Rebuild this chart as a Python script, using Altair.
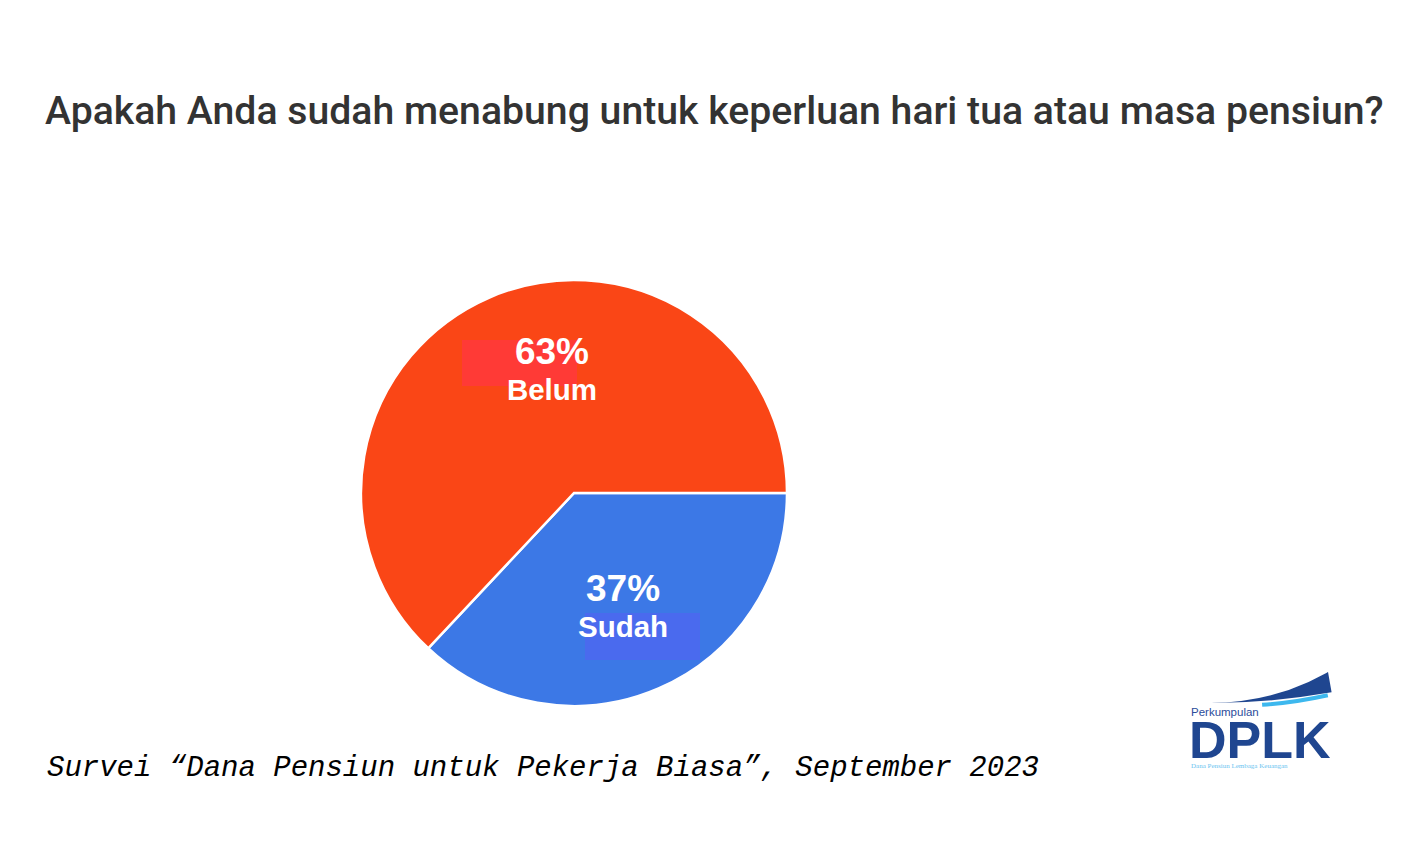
import math
import altair as alt
import pandas as pd

categories = ["Sudah", "Belum"]
values = [37, 63]
pct_labels = ["37%", "63%"]
order = [1, 2]
colors = ["#3C78E6", "#FA4616"]

title_text = "Apakah Anda sudah menabung untuk keperluan hari tua atau masa pensiun?"
footer_text = "Survei \u201cDana Pensiun untuk Pekerja Biasa\u201d, September 2023"

df = pd.DataFrame({"cat": categories, "value": values, "pct": pct_labels, "ord": order})
one = pd.DataFrame({"k": [0]})

CX, CY, R = 566, 485, 213
theta_scale = alt.Scale(domain=[0, 100], range=[math.pi / 2, math.pi / 2 + 2 * math.pi])
color_scale = alt.Scale(domain=categories, range=colors)

base = alt.Chart(df)

pie = base.mark_arc(outerRadius=R, stroke="white", strokeWidth=2.5).encode(
    theta=alt.Theta("value:Q", stack=True, scale=theta_scale),
    order=alt.Order("ord:Q"),
    color=alt.Color("cat:N", scale=color_scale, legend=None),
    x=alt.value(CX), y=alt.value(CY),
)

patch1 = alt.Chart(one).mark_rect(color="#FF3A36").encode(
    x=alt.value(454), x2=alt.value(569), y=alt.value(332), y2=alt.value(378))
patch2 = alt.Chart(one).mark_rect(color="#4A6AEE").encode(
    x=alt.value(577), x2=alt.value(692), y=alt.value(605), y2=alt.value(652))

stacked = base.transform_stack(
    stack="value", groupby=[], as_=["v0", "v1"], sort=[alt.SortField("ord", order="ascending")]
).transform_calculate(mid="(datum.v0 + datum.v1) / 2")

def lab(cat, field, dx, dy, size):
    return stacked.transform_filter(alt.datum.cat == cat).mark_text(
        font="Liberation Sans", fontWeight="bold", fontSize=size, color="white",
        align="center", baseline="middle", dx=dx, dy=dy,
    ).encode(
        theta=alt.Theta("mid:Q", stack=None, scale=theta_scale),
        radius=alt.value(126),
        x=alt.value(CX), y=alt.value(CY),
        text=alt.Text(field),
    )

labels = [
    lab("Belum", "pct:N", 28, -24, 37),
    lab("Belum", "cat:N", 28, 14, 29.5),
    lab("Sudah", "pct:N", -1, -19, 37),
    lab("Sudah", "cat:N", -1, 19, 29.5),
]

title = alt.Chart(one).mark_text(
    text=title_text, font="Roboto", fontWeight=500, fontSize=39.2, color="#333333",
    align="left", baseline="alphabetic").encode(x=alt.value(37), y=alt.value(116))

footer = alt.Chart(one).mark_text(
    text=footer_text, font="Liberation Mono", fontStyle="italic", fontSize=29,
    color="black", align="left", baseline="alphabetic").encode(x=alt.value(39), y=alt.value(768))

# logo swooshes
dark = alt.Chart(one).mark_arc(theta=2.967, theta2=3.138, innerRadius=670, outerRadius=700,
                               color="#1F4690").encode(x=alt.value(1202), y=alt.value(-5))
carve = alt.Chart(one).mark_arc(theta=2.55, theta2=3.1416, innerRadius=170, outerRadius=240,
                                color="white").encode(x=alt.value(1202), y=alt.value(455))
light = alt.Chart(one).mark_arc(theta=2.922, theta2=3.07, innerRadius=447, outerRadius=451,
                                color="#3DB8EE").encode(x=alt.value(1222), y=alt.value(249))

perk = alt.Chart(one).mark_text(text="Perkumpulan", font="Liberation Sans", fontSize=11.5,
                                color="#2B4C9B", align="left", baseline="alphabetic").encode(
    x=alt.value(1183), y=alt.value(708))
dplk = alt.Chart(one).mark_text(text="DPLK", font="Liberation Sans", fontWeight="bold", fontSize=52,
                                color="#1F4690", align="left", baseline="alphabetic").encode(
    x=alt.value(1181), y=alt.value(750))
sub = alt.Chart(one).mark_text(text="Dana Pensiun Lembaga Keuangan", font="Liberation Serif", fontSize=7,
                               color="#6CC4F0", align="left", baseline="alphabetic").encode(
    x=alt.value(1183), y=alt.value(760))

chart = alt.layer(
    pie, patch1, patch2, *labels, title, footer, dark, carve, light, perk, dplk, sub
).properties(
    width=1389, height=842, autosize=alt.AutoSizeParams(type="none"), padding=0
).configure_view(stroke=None)

chart.save("out.html", embed_options={"renderer": "svg", "actions": False})
